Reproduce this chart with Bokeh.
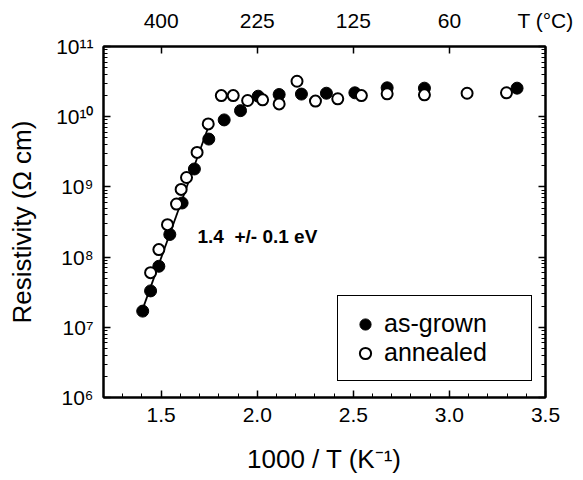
from bokeh.plotting import figure
from bokeh.models import (LinearAxis, LogAxis, FixedTicker, LogTicker, Label, Legend, LegendItem, Range1d)
from bokeh.embed import file_html
from bokeh.resources import INLINE

# ---- data ----
asgrown_x = [1.404, 1.445, 1.488, 1.545, 1.609, 1.673, 1.748, 1.828, 1.913, 2.005, 2.114,
             2.230, 2.360, 2.508, 2.676, 2.870, 3.352]
asgrown_y = [1.7e7, 3.3e7, 7.4e7, 2.1e8, 5.9e8, 1.8e9, 4.8e9, 9.0e9, 1.22e10, 1.96e10, 2.07e10,
             2.1e10, 2.16e10, 2.19e10, 2.58e10, 2.55e10, 2.55e10]

annealed_x = [1.445, 1.488, 1.533, 1.580, 1.604, 1.632, 1.687, 1.745, 1.813, 1.875, 1.950,
              2.028, 2.114, 2.207, 2.303, 2.419, 2.542, 2.676, 2.870, 3.092, 3.297]
annealed_y = [6.0e7, 1.28e8, 2.9e8, 5.7e8, 9.2e8, 1.36e9, 3.1e9, 7.9e9, 2.0e10, 2.0e10, 1.7e10,
              1.74e10, 1.52e10, 3.2e10, 1.67e10, 1.8e10, 2.0e10, 2.12e10, 2.05e10, 2.16e10, 2.19e10]

fit_x = [1.40, 1.755]
fit_y = [1.7e7, 8.4e9]

x_ticks = [1.5, 2.0, 2.5, 3.0, 3.5]
x_tick_labels = ["1.5", "2.0", "2.5", "3.0", "3.5"]
top_ticks = [1.5, 2.0, 2.5, 3.0, 3.5]
top_tick_labels = ["400", "225", "125", "60", "T (\u00b0C)"]
y_ticks = [1e6, 1e7, 1e8, 1e9, 1e10, 1e11]
y_tick_labels = ["10\u2076", "10\u2077", "10\u2078", "10\u2079", "10\u00b9\u2070", "10\u00b9\u00b9"]

FONT = "Liberation Sans"

p = figure(width=575, height=480, x_range=Range1d(1.2, 3.5), y_range=Range1d(1e6, 1e11),
           y_axis_type="log", output_backend="svg", toolbar_location=None,
           min_border_left=103, min_border_right=30, min_border_top=46, min_border_bottom=83)
p.xgrid.visible = False
p.ygrid.visible = False
p.outline_line_color = "black"
p.outline_line_width = 2
p.background_fill_color = "white"
p.border_fill_color = "white"

def style(ax, font_size="21px"):
    ax.axis_line_width = 2
    ax.axis_line_color = "black"
    ax.major_tick_in = 7
    ax.major_tick_out = 0
    ax.minor_tick_in = 4
    ax.minor_tick_out = 0
    ax.major_tick_line_width = 1.5
    ax.minor_tick_line_width = 1
    ax.major_label_text_font = FONT
    ax.major_label_text_font_size = font_size
    ax.major_label_text_color = "black"
    ax.axis_label_text_font = FONT
    ax.axis_label_text_font_style = "normal"
    ax.axis_label_text_color = "black"

# bottom axis
xa = p.xaxis[0]
style(xa)
xa.ticker = FixedTicker(ticks=x_ticks, minor_ticks=[1.2 + 0.1 * i for i in range(24)])
xa.major_label_overrides = {t: l for t, l in zip(x_ticks, x_tick_labels)}
xa.major_label_standoff = 10
xa.axis_label = "1000 / T (K\u207b\u00b9)"
xa.axis_label_text_font_size = "26px"
xa.axis_label_standoff = 19

# left axis
ya = p.yaxis[0]
style(ya)
ya.ticker = LogTicker(num_minor_ticks=10)
ya.major_label_overrides = {t: l for t, l in zip(y_ticks, y_tick_labels)}
ya.major_label_standoff = 10
ya.axis_label = "Resistivity (\u03a9 cm)"
ya.axis_label_text_font_size = "26px"
ya.axis_label_standoff = 16

# top axis
ta = LinearAxis(ticker=FixedTicker(ticks=top_ticks, minor_ticks=[]))
style(ta)
ta.major_label_overrides = {t: l for t, l in zip(top_ticks, top_tick_labels)}
ta.major_label_standoff = 15
p.add_layout(ta, "above")

# right axis (ticks only)
ra = LogAxis(ticker=LogTicker(num_minor_ticks=10))
style(ra)
ra.major_label_text_alpha = 0
ra.major_label_text_font_size = "8px"
ra.major_label_standoff = 0
p.add_layout(ra, "right")

# fit line
p.line(fit_x, fit_y, line_color="black", line_width=1.8)

r1 = p.scatter(asgrown_x, asgrown_y, marker="circle", size=12, fill_color="black", line_color="black")
r2 = p.scatter(annealed_x, annealed_y, marker="circle", size=11, fill_color="white",
               line_color="black", line_width=2)

legend = Legend(items=[LegendItem(label="as-grown", renderers=[r1]),
                       LegendItem(label="annealed", renderers=[r2])],
                location=(234, 16), orientation="vertical")
legend.label_text_font = FONT
legend.label_text_font_size = "25px"
legend.label_text_color = "black"
legend.glyph_height = 28
legend.glyph_width = 28
legend.label_height = 28
legend.label_width = 134
legend.label_standoff = 5
legend.spacing = 0
legend.padding = 13
legend.margin = 0
legend.border_line_color = "black"
legend.border_line_alpha = 1
legend.border_line_width = 1.8
legend.background_fill_color = "white"
legend.background_fill_alpha = 1
p.add_layout(legend, "center")

p.add_layout(Label(x=1.689, y=1.96e8, text="1.4 \u00a0+/- 0.1 eV", text_font=FONT,
                   text_font_size="19px", text_font_style="bold", text_color="black",
                   text_align="left", text_baseline="middle"))

open("out.html", "w").write(file_html(p, INLINE))
